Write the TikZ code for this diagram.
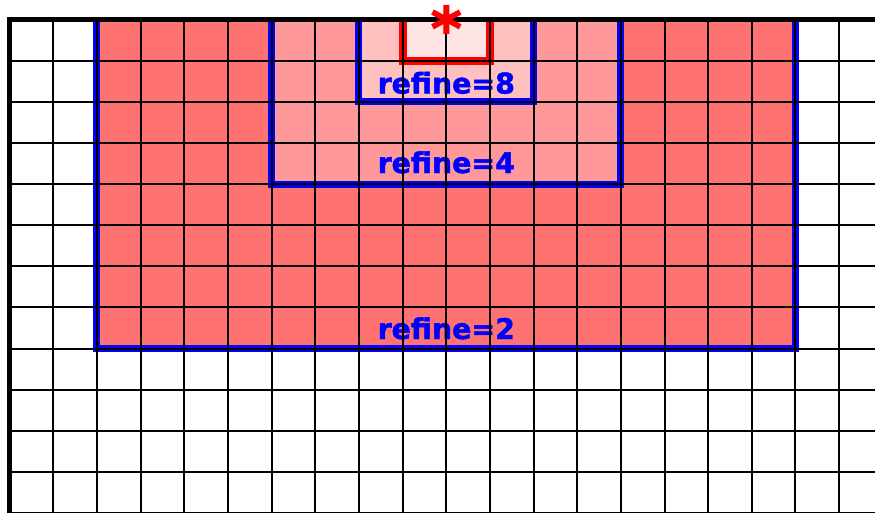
\documentclass[tikz,border=0pt]{standalone}
\usepackage{fontspec}
\newfontfamily\dvbold[FakeBold=1.6]{DejaVu Sans Bold}
\definecolor{lvltwo}{RGB}{255,114,114}
\definecolor{lvlfour}{RGB}{255,152,152}
\definecolor{lvleight}{RGB}{255,192,192}
\definecolor{srcfill}{RGB}{255,228,228}
\definecolor{bluebox}{RGB}{0,0,255}
\definecolor{redbox}{RGB}{255,0,0}
\tikzset{
  gridline/.style={draw=black,line width=2pt},
  domainline/.style={draw=black,line width=5pt},
  refbox/.style={draw=bluebox,line width=7pt},
  srcbox/.style={draw=redbox,line width=8pt},
  reflabel/.style={inner sep=0pt,anchor=base,text=bluebox,font=\dvbold\fontsize{28.4}{30}\selectfont},
}
\begin{document}
\begin{tikzpicture}[x=1pt,y=-1pt]
\useasboundingbox (0,0) rectangle (875,512);
\clip (0,0) rectangle (875,512);
\fill[white] (0,0) rectangle (875,512);
% grid positions
\def\gx#1{9.6+43.66*#1}
\def\gy#1{19.7+41.1*#1}
% fills
\fill[lvltwo] ({\gx{2}},{\gy{0}}) rectangle ({\gx{18}},{\gy{8}});
\fill[lvlfour] ({\gx{6}},{\gy{0}}) rectangle ({\gx{14}},{\gy{4}});
\fill[lvleight] ({\gx{8}},{\gy{0}}) rectangle ({\gx{12}},{\gy{2}});
\fill[srcfill] ({\gx{9}},{\gy{0}}) rectangle ({\gx{11}},{\gy{1}});
% refinement boxes
\draw[refbox] ({\gx{2}},{\gy{0}}) -- ({\gx{2}},{\gy{8}}) -- ({\gx{18}},{\gy{8}}) -- ({\gx{18}},{\gy{0}});
\draw[refbox] ({\gx{6}},{\gy{0}}) -- ({\gx{6}},{\gy{4}}) -- ({\gx{14}},{\gy{4}}) -- ({\gx{14}},{\gy{0}});
\draw[refbox] ({\gx{8}},{\gy{0}}) -- ({\gx{8}},{\gy{2}}) -- ({\gx{12}},{\gy{2}}) -- ({\gx{12}},{\gy{0}});
\draw[srcbox] ({\gx{9}},{\gy{0}}) -- ({\gx{9}},{\gy{1}}) -- ({\gx{11}},{\gy{1}}) -- ({\gx{11}},{\gy{0}});
% labels
\node[reflabel] (r8) at (446.3,93.5) {refine=8};
\node[reflabel] (r4) at (446.3,173) {refine=4};
\node[reflabel] (r2) at (446.3,339) {refine=2};
% grid
\foreach \k in {1,...,19} {\draw[gridline] ({\gx{\k}},{\gy{0}}) -- ({\gx{\k}},514);}
\foreach \j in {1,...,12} {\draw[gridline] ({\gx{0}},{\gy{\j}}) -- (877,{\gy{\j}});}
% domain boundary
\draw[domainline] ({\gx{0}},514) -- ({\gx{0}},{\gy{0}}) -- (877,{\gy{0}});
% source marker
\node[inner sep=0pt,anchor=base,text=redbox,font=\dvbold\fontsize{60}{62}\selectfont] (src) at (446.3,50) {*};
\end{tikzpicture}
\end{document}
